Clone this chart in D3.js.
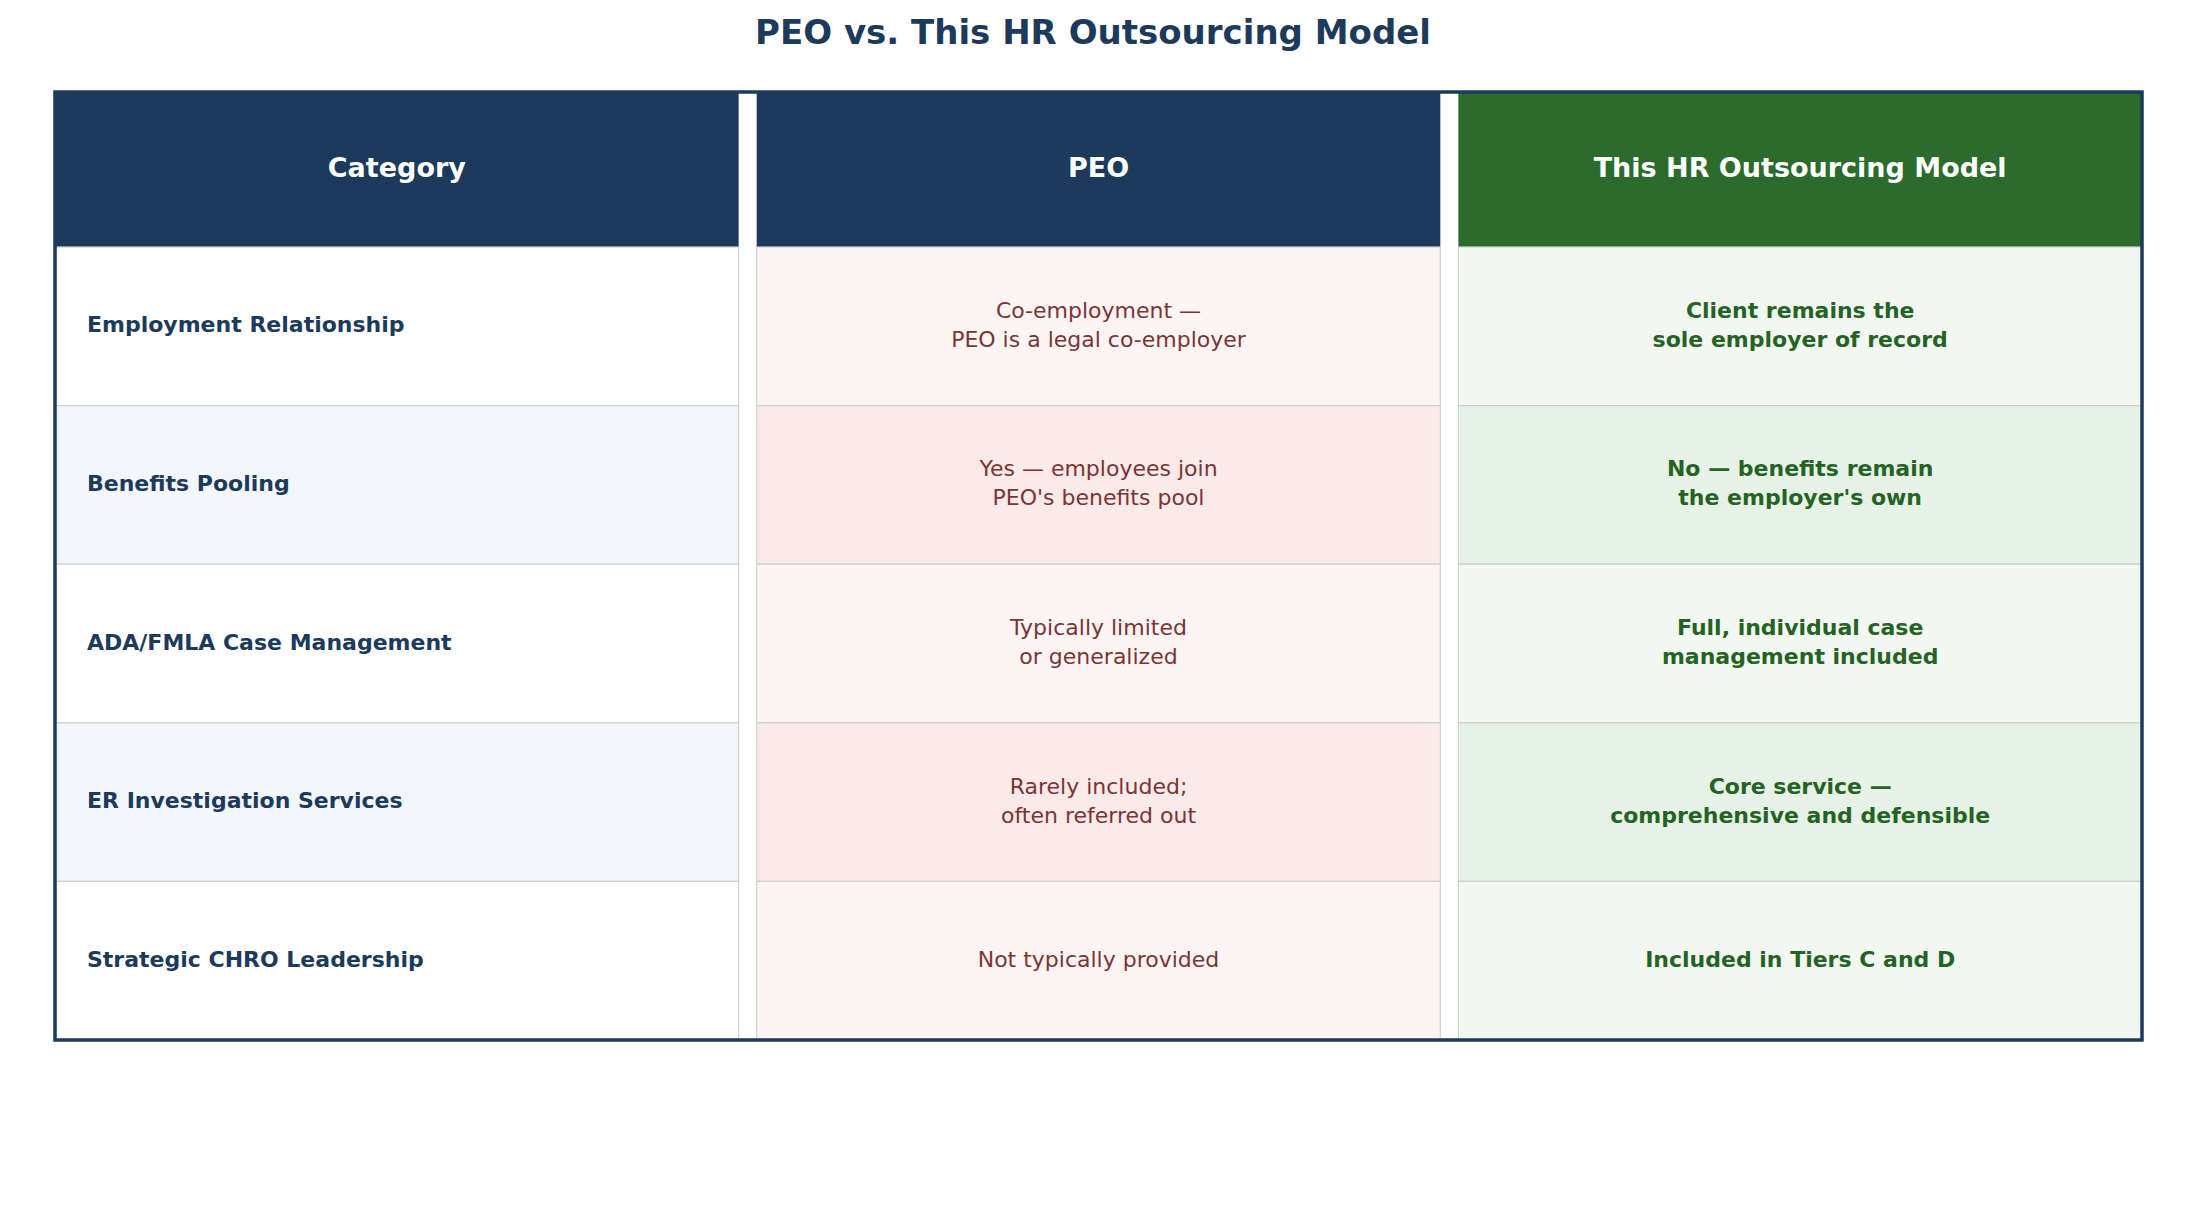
<!DOCTYPE html>
<html><head><meta charset="utf-8">
<script src="https://cdn.jsdelivr.net/npm/d3@7"></script>
<style>body{margin:0;background:#fff}svg{display:block;font-family:"DejaVu Sans",sans-serif}</style>
</head><body><svg id="chart"></svg>
<script>
const columns = ['Category', 'PEO', 'This HR Outsourcing Model'];
const categories = ['Employment Relationship', 'Benefits Pooling', 'ADA/FMLA Case Management', 'ER Investigation Services', 'Strategic CHRO Leadership'];
const peoValues = [
  ['Co-employment \u2014', 'PEO is a legal co-employer'],
  ['Yes \u2014 employees join', "PEO's benefits pool"],
  ['Typically limited', 'or generalized'],
  ['Rarely included;', 'often referred out'],
  ['Not typically provided']
];
const modelValues = [
  ['Client remains the', 'sole employer of record'],
  ['No \u2014 benefits remain', "the employer's own"],
  ['Full, individual case', 'management included'],
  ['Core service \u2014', 'comprehensive and defensible'],
  ['Included in Tiers C and D']
];

const width = 2186, height = 1229;
const tLeft = 55, tRight = 2142, tTop = 92, headH = 155, tBottom = 1040;
const svg = d3.select('#chart').attr('width', width).attr('height', height);

svg.append('text').attr('x', width / 2).attr('y', 34).attr('text-anchor', 'middle')
  .attr('dominant-baseline', 'middle').attr('font-size', 34).attr('font-weight', 'bold')
  .attr('fill', '#1b3a5c').text('PEO vs. This HR Outsourcing Model');

const xScale = d3.scaleBand().domain(columns).range([tLeft, tRight]).paddingInner(0.0257);
const yScale = d3.scaleBand().domain(categories).range([tTop + headH, tBottom]);

const styles = [
  { head: '#1b3a5c', bg: ['#ffffff', '#f3f6fb'], color: '#1b3a5c', weight: 'bold', anchor: 'start' },
  { head: '#1b3a5c', bg: ['#fdf4f4', '#fbeaea'], color: '#7a3535', weight: 'normal', anchor: 'middle' },
  { head: '#2b6b2b', bg: ['#f2f8f1', '#e7f2e6'], color: '#256325', weight: 'bold', anchor: 'middle' }
];
const cellText = [categories.map(d => [d]), peoValues, modelValues];

columns.forEach((c, ci) => {
  const x0 = xScale(c), bw = xScale.bandwidth(), st = styles[ci];
  svg.append('rect').attr('x', x0).attr('y', tTop).attr('width', bw).attr('height', headH).attr('fill', st.head);
  svg.append('text').attr('x', x0 + bw / 2).attr('y', tTop + headH / 2).attr('text-anchor', 'middle')
    .attr('dominant-baseline', 'middle').attr('fill', '#fff').attr('font-weight', 'bold')
    .attr('font-size', 27).text(c);
  categories.forEach((r, ri) => {
    const y0 = yScale(r), bh = yScale.bandwidth();
    svg.append('rect').attr('x', x0).attr('y', y0).attr('width', bw).attr('height', bh)
      .attr('fill', st.bg[ri % 2]).attr('stroke', '#cfcfcf').attr('stroke-width', 1.2);
    const lines = cellText[ci][ri];
    const t = svg.append('text').attr('text-anchor', st.anchor).attr('fill', st.color)
      .attr('font-weight', st.weight).attr('font-size', 22);
    lines.forEach((l, li) => {
      t.append('tspan').attr('x', st.anchor === 'start' ? x0 + 32 : x0 + bw / 2)
        .attr('y', y0 + bh / 2 + (li - (lines.length - 1) / 2) * 29)
        .attr('dominant-baseline', 'middle').text(l);
    });
  });
});

svg.append('rect').attr('x', tLeft).attr('y', tTop).attr('width', tRight - tLeft).attr('height', tBottom - tTop)
  .attr('fill', 'none').attr('stroke', '#1b3a5c').attr('stroke-width', 3.5);
</script></body></html>
